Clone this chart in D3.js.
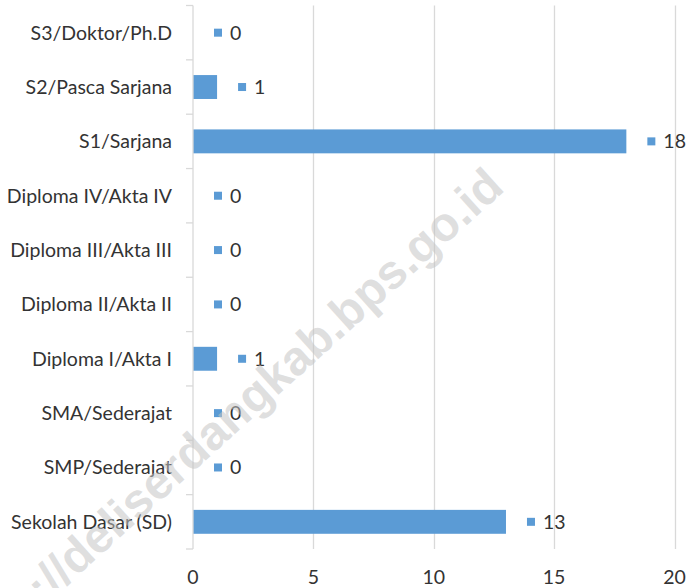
<!DOCTYPE html>
<html>
<head>
<meta charset="utf-8">
<script src="https://cdn.jsdelivr.net/npm/d3@7"></script>
<style>
  body { margin:0; background:#fff; }
  svg { display:block; }
</style>
</head>
<body>
<svg id="chart" width="691" height="588"></svg>
<script>
(function(){
  // categories top to bottom
  var categories = ["S3/Doktor/Ph.D","S2/Pasca Sarjana","S1/Sarjana","Diploma IV/Akta IV",
    "Diploma III/Akta III","Diploma II/Akta II","Diploma I/Akta I","SMA/Sederajat",
    "SMP/Sederajat","Sekolah Dasar (SD)"];
  var values = [0,1,18,0,0,0,1,0,0,13];
  var xTicks = [0,5,10,15,20];
  var watermark = "http://deliserdangkab.bps.go.id";

  var svg = d3.select('#chart');
  var m = {top:5.5, left:193, right:16.5, bottom:39};
  var W = 691, H = 588;
  var barColor = "#5B9BD5";
  var textColor = "#333333";
  var font = "Lato, 'Open Sans', sans-serif";
  var fs = '19.5px';

  var x = d3.scaleLinear().domain([0,20]).range([m.left, W - m.right]);
  var y = d3.scaleBand().domain(categories).range([m.top, H - m.bottom]).paddingInner(0.56).paddingOuter(0.28);
  var band = (H - m.bottom - m.top) / categories.length;

  // gridlines
  svg.append('g').selectAll('line')
    .data(xTicks.slice(1))
    .enter().append('line')
    .attr('x1', function(d){return Math.round(x(d))+0.5;})
    .attr('x2', function(d){return Math.round(x(d))+0.5;})
    .attr('y1', m.top).attr('y2', H - m.bottom)
    .attr('stroke','#d9d9d9').attr('stroke-width',1.3);

  // bars
  svg.append('g').selectAll('rect')
    .data(values)
    .enter().append('rect')
    .attr('x', x(0))
    .attr('y', function(d,i){return y(categories[i]);})
    .attr('width', function(d){return x(d) - x(0);})
    .attr('height', y.bandwidth())
    .attr('fill', barColor);

  // y axis line + ticks at category boundaries
  var ay = svg.append('g');
  ay.append('line')
    .attr('x1', x(0)).attr('x2', x(0))
    .attr('y1', m.top).attr('y2', H - m.bottom)
    .attr('stroke','#d9d9d9').attr('stroke-width',1.3);
  ay.selectAll('line.tk')
    .data(d3.range(categories.length+1))
    .enter().append('line').attr('class','tk')
    .attr('x1', x(0) - 7).attr('x2', x(0))
    .attr('y1', function(i){return m.top + i*band;})
    .attr('y2', function(i){return m.top + i*band;})
    .attr('stroke','#d9d9d9').attr('stroke-width',1.3);

  // category labels
  svg.append('g').selectAll('text')
    .data(categories)
    .enter().append('text')
    .attr('x', 172)
    .attr('y', function(d){return y(d) + y.bandwidth()/2;})
    .attr('dy','0.35em')
    .attr('text-anchor','end')
    .attr('font-family', font).attr('font-size', fs)
    .attr('fill', textColor)
    .text(function(d){return d;});

  // x tick labels
  svg.append('g').selectAll('text')
    .data(xTicks)
    .enter().append('text')
    .attr('x', function(d){return x(d);})
    .attr('y', 577)
    .attr('dy','0.35em')
    .attr('text-anchor','middle')
    .attr('font-family', font).attr('font-size', fs)
    .attr('fill', textColor)
    .text(function(d){return d;});

  // data labels with legend key
  var lab = svg.append('g').selectAll('g')
    .data(values)
    .enter().append('g')
    .attr('transform', function(d,i){
      return 'translate(' + (x(d) + 25) + ',' + (y(categories[i]) + y.bandwidth()/2) + ')';
    });
  lab.append('rect')
    .attr('x',-4).attr('y',-4).attr('width',8).attr('height',8)
    .attr('fill', barColor);
  lab.append('text')
    .attr('x', 12).attr('dy','0.35em')
    .attr('font-family', font).attr('font-size', fs)
    .attr('fill', textColor)
    .text(function(d){return d;});

  // watermark
  svg.append('text')
    .attr('transform','translate(506,190) rotate(-42)')
    .attr('text-anchor','end')
    .attr('font-family',"'Liberation Sans', Arial, sans-serif")
    .attr('font-weight','bold')
    .attr('font-size','48px')
    .attr('fill','#c4c4c4')
    .attr('fill-opacity',0.55)
    .text(watermark);
})();
</script>
</body>
</html>
